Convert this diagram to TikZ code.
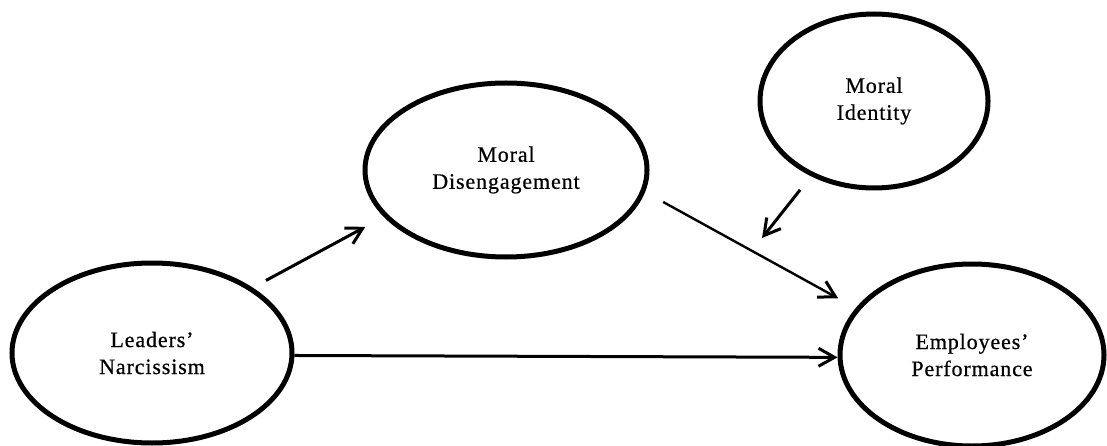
\documentclass[tikz,border=0pt]{standalone}
\usepackage{fontspec}
\setmainfont{Liberation Serif}[FakeBold=0.6,LetterSpace=4]
\usetikzlibrary{shapes.geometric,arrows.meta}
\tikzset{
  construct/.style={ellipse, draw, line width=5pt, inner sep=0pt, align=center,
    font=\fontsize{22}{27}\selectfont},
  conn/.style={line width=3pt, -{Straight Barb[length=16pt,width=18pt,line width=3pt]}},
}
\begin{document}
\begin{tikzpicture}[x=1pt,y=-1pt]
\useasboundingbox (0,0) rectangle (1107,446);
\node[construct, minimum width=280pt, minimum height=180pt] (LN) at (152,353) {Leaders’\\Narcissism};
\node[construct, minimum width=282pt, minimum height=174pt] (MD) at (506,170) {Moral\\Disengagement};
\node[construct, minimum width=228pt, minimum height=174pt] (MI) at (874,101) {Moral\\Identity};
\node[construct, minimum width=264pt, minimum height=182pt] (EP) at (972,355) {Employees’\\Performance};
\coordinate (mod) at (762,238);
\draw[conn, shorten <=15pt, shorten >=21pt] (LN.33.6) -- (MD.201.6);
\draw[conn] (LN.-1.5) -- (EP.181);
\draw[conn, line width=2.4pt, shorten <=20.6pt, shorten >=20pt] (MD.-9.7) -- (EP.158.3);
\draw[conn, shorten <=17.4pt] (MI.230.2) -- (mod);
\end{tikzpicture}
\end{document}
